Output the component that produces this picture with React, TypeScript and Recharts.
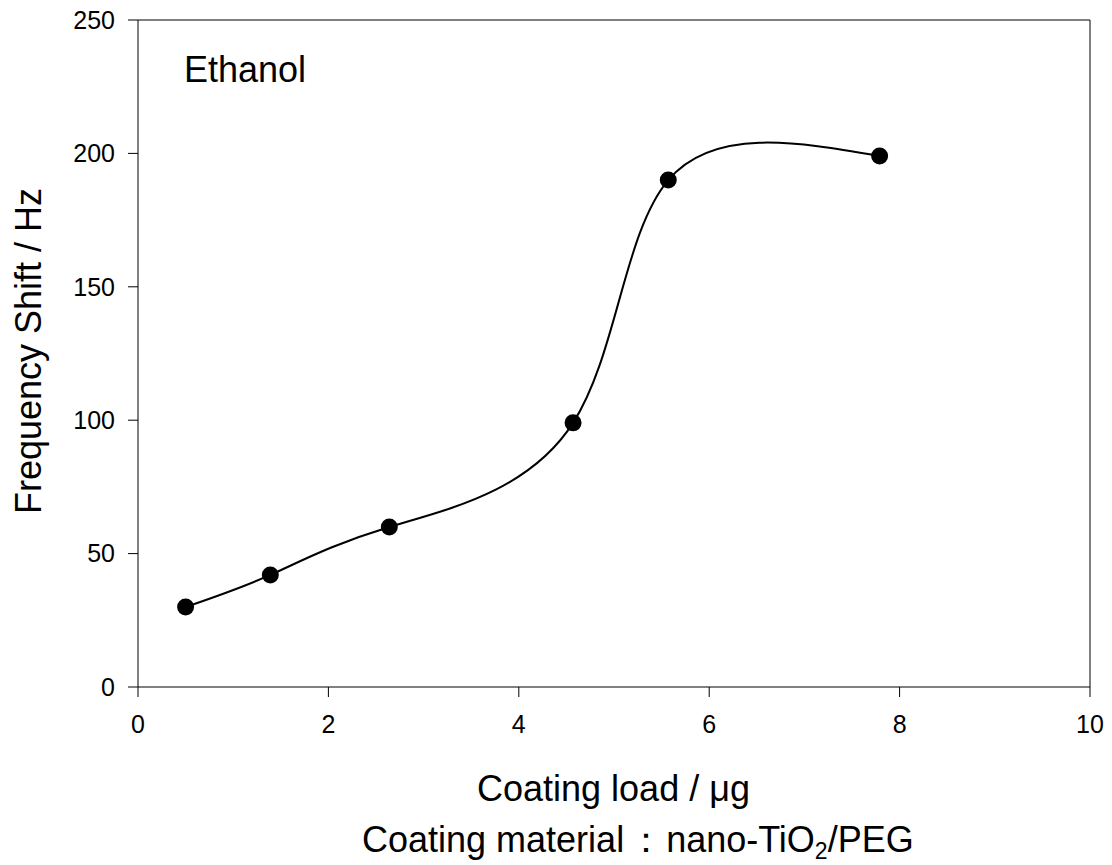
import { ComposedChart, Line, XAxis, YAxis, ReferenceLine, Customized } from "recharts";

const loads = [0.5, 1.39, 2.64, 4.57, 5.57, 7.79];
const shifts = [30, 42, 60, 99, 190, 199];
const xTicks = [0, 2, 4, 6, 8, 10];
const yTicks = [0, 50, 100, 150, 200, 250];

const data = loads.map((x, i) => ({ x, y: shifts[i] }));

const font = "Liberation Sans, Arial, sans-serif";

const Labels = () => (
  <g fontFamily={font} fill="#000">
    <text x={184} y={82} fontSize={36}>Ethanol</text>
    <text x={41} y={351} fontSize={36} textAnchor="middle" transform="rotate(-90 41 351)">
      Frequency Shift / Hz
    </text>
    <text x={477} y={801} fontSize={36}>Coating load / μg</text>
    <text x={362} y={852} fontSize={36}>
      Coating material<tspan dx={4}>：</tspan><tspan dx={2}>nano-TiO</tspan>
      <tspan fontSize={23} dy={7}>2</tspan>
      <tspan dy={-7}>/PEG</tspan>
    </text>
  </g>
);

export default function App() {
  return (
    <div style={{ width: 1112, height: 865, background: "#fff" }}>
      <style>{`body{margin:0}`}</style>
      <ComposedChart width={1112} height={865} data={data} margin={{ top: 20, right: 22, left: 0, bottom: 0 }}>
        <XAxis
          dataKey="x"
          type="number"
          domain={[0, 10]}
          ticks={xTicks}
          height={178}
          tickSize={10}
          tickMargin={18}
          stroke="#000"
          tick={{ fontSize: 25, fill: "#000", fontFamily: font }}
        />
        <YAxis
          type="number"
          domain={[0, 250]}
          ticks={yTicks}
          width={138}
          tickSize={10}
          tickMargin={13}
          stroke="#000"
          tick={{ fontSize: 25, fill: "#000", fontFamily: font }}
        />
        <ReferenceLine y={250} stroke="#000" />
        <ReferenceLine x={10} stroke="#000" />
        <Line
          dataKey="y"
          type="natural"
          stroke="#000"
          strokeWidth={2}
          dot={{ r: 8.5, fill: "#000", stroke: "#000", strokeWidth: 0 }}
          isAnimationActive={false}
        />
        <Customized component={Labels} />
      </ComposedChart>
    </div>
  );
}
